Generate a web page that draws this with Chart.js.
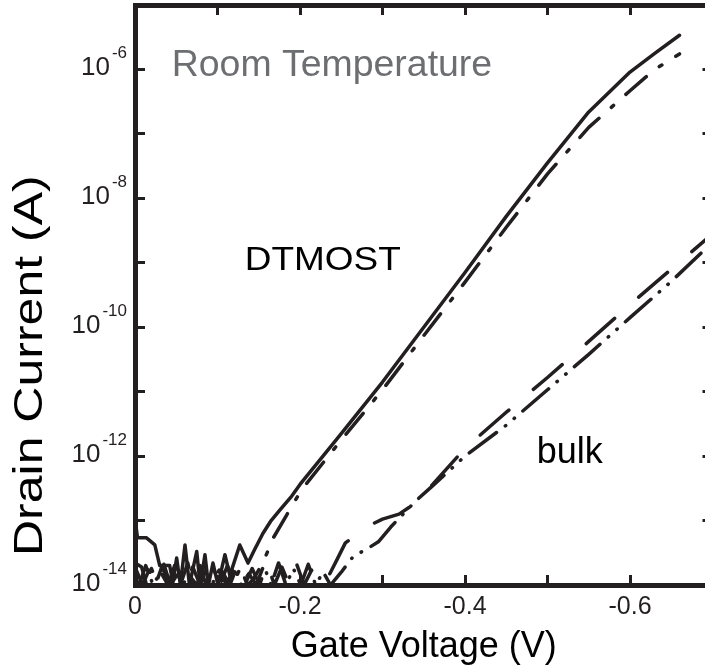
<!DOCTYPE html>
<html><head><meta charset="utf-8">
<script src="https://cdn.jsdelivr.net/npm/chart.js@4.4.1/dist/chart.umd.min.js"></script>
<style>html,body{margin:0;padding:0;overflow:hidden;background:#fff}canvas{display:block}</style>
</head><body><canvas id="c" width="722" height="672" style="width:722px;height:672px"></canvas>
<script>
// ---- data (gate voltage in V, drain current in A) ----
const dtSolidV = [0,-0.003,-0.014,-0.024,-0.03,-0.042,-0.046,-0.0505,-0.055,-0.0606,-0.066,-0.0748,-0.079,-0.0848,-0.089,-0.0945,-0.1006,-0.109,-0.115,-0.127,-0.137,-0.145,-0.155,-0.165,-0.176,-0.19,-0.2,-0.25,-0.3,-0.35,-0.4,-0.45,-0.5,-0.55,-0.6,-0.63,-0.66];
const dtSolidI = [1.07e-13,5.4e-14,5.4e-14,4.2e-14,2.0e-14,2.0e-14,1.12e-14,2.63e-14,1.0e-14,4.17e-14,1.0e-14,3.31e-14,1.0e-14,2.95e-14,1.0e-14,2.19e-14,1.0e-14,2.95e-14,1.41e-14,4.17e-14,2.19e-14,3.55e-14,6.31e-14,1.0e-13,1.48e-13,2.40e-13,3.63e-13,2.24e-12,1.41e-11,1.0e-10,7.08e-10,5.25e-9,3.55e-8,2.19e-7,9.12e-7,1.78e-6,3.39e-6];

const dtDashV = [0,-0.008,-0.014,-0.02,-0.026,-0.033,-0.04,-0.047,-0.055,-0.064,-0.07,-0.079,-0.086,-0.095,-0.103,-0.112,-0.12,-0.128,-0.136,-0.143,-0.155,-0.1677,-0.184,-0.202,-0.25,-0.3,-0.35,-0.4,-0.45,-0.5,-0.55,-0.6,-0.63,-0.66];
const dtDashI = [2.2e-14,1.9e-14,1.0e-14,1.8e-14,1.1e-14,2.0e-14,1.0e-14,1.6e-14,1.0e-14,2.2e-14,1.0e-14,2.0e-14,1.0e-14,1.8e-14,1.0e-14,2.0e-14,1.1e-14,1.9e-14,1.0e-14,1.2e-14,2.2e-14,5.4e-14,1.23e-13,3.02e-13,1.78e-12,1.07e-11,7.41e-11,5.01e-10,3.55e-9,2.40e-8,1.26e-7,4.68e-7,1.0e-6,1.74e-6];

const bulkDashV = [0,-0.009,-0.017,-0.026,-0.035,-0.043,-0.052,-0.061,-0.07,-0.079,-0.088,-0.097,-0.106,-0.115,-0.124,-0.133,-0.142,-0.151,-0.16,-0.169,-0.178,-0.187,-0.196,-0.205,-0.214,-0.223,-0.235,-0.245,-0.255,-0.265,-0.28,-0.3,-0.32,-0.34,-0.36,-0.4,-0.45,-0.5,-0.55,-0.6,-0.65,-0.7];
const bulkDashI = [1.9e-14,1.0e-14,1.7e-14,1.0e-14,2.1e-14,1.0e-14,1.5e-14,1.0e-14,1.9e-14,1.0e-14,2.0e-14,1.0e-14,1.6e-14,1.0e-14,2.0e-14,1.0e-14,1.8e-14,1.0e-14,2.2e-14,1.0e-14,1.9e-14,1.0e-14,2.1e-14,1.0e-14,1.7e-14,1.0e-14,1.4e-14,2.5e-14,4.5e-14,5.6e-14,7.9e-14,1.05e-13,1.26e-13,1.86e-13,3.55e-13,1.32e-12,4.79e-12,1.66e-11,6.03e-11,2.24e-10,7.94e-10,2.82e-9];

const bulkDotV = [0,-0.005,-0.013,-0.022,-0.031,-0.04,-0.048,-0.057,-0.066,-0.075,-0.084,-0.093,-0.102,-0.111,-0.12,-0.129,-0.138,-0.147,-0.156,-0.165,-0.174,-0.183,-0.192,-0.201,-0.21,-0.219,-0.228,-0.237,-0.25,-0.265,-0.28,-0.295,-0.31,-0.325,-0.34,-0.36,-0.4,-0.45,-0.5,-0.55,-0.6,-0.65,-0.7];
const bulkDotI = [1.3e-14,1.0e-14,2.0e-14,1.0e-14,1.6e-14,1.0e-14,2.0e-14,1.0e-14,1.4e-14,1.0e-14,2.1e-14,1.0e-14,1.7e-14,1.0e-14,1.9e-14,1.0e-14,1.5e-14,1.0e-14,2.0e-14,1.0e-14,2.2e-14,1.0e-14,1.8e-14,1.0e-14,2.1e-14,1.0e-14,1.6e-14,1.0e-14,1.58e-14,2.82e-14,3.55e-14,4.68e-14,7.94e-14,1.26e-13,2.0e-13,3.39e-13,1.0e-12,3.02e-12,1.07e-11,3.80e-11,1.41e-10,5.13e-10,2.09e-9];

// ---- ticks ----
const xTickValues = [0,-0.1,-0.2,-0.3,-0.4,-0.5,-0.6,-0.7];
const xTickLabels = ['0','','-0.2','','-0.4','','-0.6',''];
const yTickValues = [1e-14,1e-13,1e-12,1e-11,1e-10,1e-9,1e-8,1e-7,1e-6,1e-5];
const yTickBase = '10';
const yTickExponents = ['-14','','-12','','-10','','-8','','-6',''];

// ---- text labels ----
const xTitle = 'Gate Voltage (V)';
const yTitle = 'Drain Current (A)';
const notes = [
  {text:'Room Temperature', v:-0.0445, a:8.0e-7, size:36, color:'#6d6e71', sx:1.04},
  {text:'DTMOST', v:-0.133, a:7.64e-10, size:33, color:'#000000', sx:1.12},
  {text:'bulk', v:-0.487, a:7.8e-13, size:36, color:'#000000', sx:1.0}
];

const INK = '#231f20';
const FONT = '"Liberation Sans", Arial, sans-serif';
Chart.defaults.font.family = FONT;

const pts = (vs, is) => vs.map((v, k) => ({x: v, y: is[k]}));
const line = (label, data, dash, w) => ({
  label, data, borderColor: INK, borderWidth: w, borderDash: dash,
  borderCapStyle: 'round', borderJoinStyle: 'round',
  pointRadius: 0, tension: 0, fill: false
});

const labelPlugin = {
  id: 'labelPlugin',
  afterDraw(chart) {
    const ctx = chart.ctx, ys = chart.scales.y, xs = chart.scales.x, area = chart.chartArea;
    ctx.save();
    ctx.fillStyle = INK;
    ctx.textBaseline = 'alphabetic';
    ctx.textAlign = 'right';
    ys.ticks.forEach((t, i) => {
      const ex = yTickExponents[i];
      if (!ex) return;
      const py = ys.getPixelForValue(t.value);
      const right = area.left - 8;
      ctx.font = '17px ' + FONT;
      ctx.fillText(ex, right, py - 11);
      const w = ctx.measureText(ex).width;
      ctx.font = '26px ' + FONT;
      ctx.fillText(yTickBase, right - w - 2, py + 5.5);
    });
    // y axis title (rotated)
    ctx.save();
    ctx.fillStyle = '#000';
    ctx.font = '40px ' + FONT;
    ctx.textAlign = 'left';
    ctx.translate(42, 556);
    ctx.rotate(-Math.PI / 2);
    ctx.scale(1.25, 1);
    ctx.fillText(yTitle, 0, 0);
    ctx.restore();
    // annotations
    notes.forEach(n => {
      ctx.save();
      ctx.fillStyle = n.color;
      ctx.font = n.size + 'px ' + FONT;
      ctx.textAlign = 'left';
      ctx.translate(xs.getPixelForValue(n.v), ys.getPixelForValue(n.a));
      ctx.scale(n.sx, 1);
      ctx.fillText(n.text, 0, 0);
      ctx.restore();
    });
    ctx.restore();
  }
};

const gridOpts = {drawOnChartArea: false, tickLength: -10, tickWidth: 3, tickColor: INK};
const borderOpts = {width: 5, color: INK};

new Chart(document.getElementById('c'), {
  type: 'line',
  data: {
    datasets: [
      line('bulk (long dash)', pts(bulkDashV, bulkDashI), [38, 32], 3.5),
      line('bulk (dash-dot-dot)', pts(bulkDotV, bulkDotI), [34, 11, 0.5, 11, 0.5, 11], 3.5),
      line('DTMOST (dash-dot)', pts(dtDashV, dtDashI), [27, 16.5, 3, 16.5], 3.5),
      line('DTMOST (solid)', pts(dtSolidV, dtSolidI), [], 3.5)
    ]
  },
  options: {
    animation: false,
    responsive: false,
    maintainAspectRatio: false,
    devicePixelRatio: 1,
    layout: {padding: 0},
    plugins: {legend: {display: false}, tooltip: {enabled: false}},
    scales: {
      x: {
        type: 'linear', position: 'bottom', min: -0.7, max: 0, reverse: true,
        afterBuildTicks: s => { s.ticks = xTickValues.map(v => ({value: v})); },
        afterFit: s => { s.height = 87; s.paddingLeft = 0; s.paddingRight = 0; },
        ticks: {autoSkip: false, maxRotation: 0, padding: 17, color: INK, font: {size: 25},
                callback: (v, i) => xTickLabels[i]},
        grid: gridOpts, border: borderOpts,
        title: {display: true, text: xTitle, color: '#000', font: {size: 36}, padding: {top: 0, bottom: 3}}
      },
      xTop: {
        type: 'linear', position: 'top', min: -0.7, max: 0, reverse: true,
        afterBuildTicks: s => { s.ticks = xTickValues.map(v => ({value: v})); },
        afterFit: s => { s.height = 5; s.paddingLeft = 0; s.paddingRight = 0; },
        ticks: {autoSkip: false, maxRotation: 0, callback: () => ''},
        grid: gridOpts, border: borderOpts
      },
      y: {
        type: 'logarithmic', position: 'left', min: 1e-14, max: 1e-5,
        afterBuildTicks: s => { s.ticks = yTickValues.map(v => ({value: v})); },
        afterFit: s => { s.width = 135; s.paddingTop = 0; s.paddingBottom = 0; },
        ticks: {autoSkip: false, callback: () => ''},
        grid: gridOpts, border: borderOpts
      },
      yRight: {
        type: 'logarithmic', position: 'right', min: 1e-14, max: 1e-5,
        afterBuildTicks: s => { s.ticks = yTickValues.map(v => ({value: v})); },
        afterFit: s => { s.width = 9.5; s.paddingTop = 0; s.paddingBottom = 0; },
        ticks: {autoSkip: false, callback: () => ''},
        grid: gridOpts, border: borderOpts
      }
    }
  },
  plugins: [labelPlugin]
});
</script></body></html>
